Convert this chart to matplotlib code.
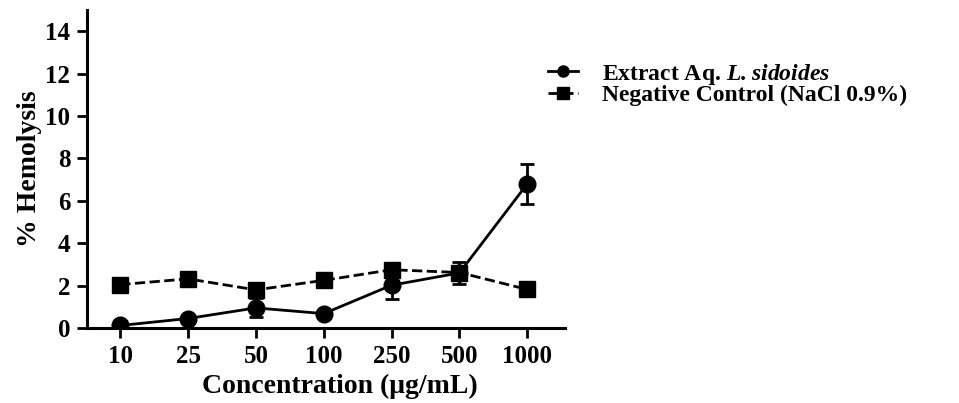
import matplotlib.pyplot as plt
from matplotlib.lines import Line2D
import numpy as np

plt.rcParams['font.family'] = ['Liberation Serif', 'DejaVu Serif']
plt.rcParams['font.weight'] = 'bold'
plt.rcParams['mathtext.fontset'] = 'custom'
plt.rcParams['mathtext.bfit'] = 'Liberation Serif:bold:italic'
plt.rcParams['mathtext.rm'] = 'Liberation Serif:bold'

concentrations = ['10', '25', '50', '100', '250', '500', '1000']
extract = [0.12, 0.45, 0.95, 0.68, 2.02, 2.6, 6.8]
extract_err = [0.1, 0.05, 0.45, 0.05, 0.65, 0.5, 0.95]
control = [2.05, 2.32, 1.8, 2.25, 2.75, 2.62, 1.82]
control_err = [0.05, 0.05, 0.3, 0.3, 0.05, 0.3, 0.05]

x = np.arange(len(concentrations))

fig = plt.figure(figsize=(9.59, 4.03), dpi=100)
ax = fig.add_axes([0.0907, 0.186, 0.498, 0.789])

ax.errorbar(x, control, yerr=control_err, color='black', linestyle='--', linewidth=2,
            marker='s', markersize=12, capsize=5, capthick=2, elinewidth=2, zorder=3)
ax.errorbar(x, extract, yerr=extract_err, color='black', linestyle='-', linewidth=2,
            marker='o', markersize=12, capsize=5, capthick=2, elinewidth=2, zorder=4)

ax.set_xlim(-0.49, 6.55)
ax.set_ylim(0, 15)
ax.set_yticks(np.arange(0, 15, 2))
ax.set_xticks(x)
ax.set_xticklabels(concentrations)
ax.tick_params(direction='out', length=7, width=2, labelsize=18, pad=5)
for lab in ax.get_xticklabels() + ax.get_yticklabels():
    lab.set_fontweight('bold')

ax.spines['top'].set_visible(False)
ax.spines['right'].set_visible(False)
ax.spines['left'].set_linewidth(2.2)
ax.spines['bottom'].set_linewidth(2.2)

ax.set_xlabel('Concentration (\u03bcg/mL)', fontsize=20, fontweight='bold')
ax.xaxis.set_label_coords(0.53, -0.145)
ax.set_ylabel('% Hemolysis', fontsize=20, fontweight='bold', labelpad=2)

handles = [Line2D([], [], color='black', linestyle='-', linewidth=2, marker='o', markersize=8),
           Line2D([], [], color='black', linestyle='--', linewidth=2, marker='s', markersize=8)]
labels = [r'Extract Aq. $\mathbfit{L.sidoides}$', 'Negative Control (NaCl 0.9%)']
leg = fig.legend(handles, labels, loc='upper left', bbox_to_anchor=(0.571, 0.847),
                 frameon=False, fontsize=17, handlelength=1.3, handletextpad=1.0,
                 labelspacing=-0.1, borderpad=0, borderaxespad=0)
for t in leg.get_texts():
    t.set_fontweight('bold')

fig.savefig('out.png', dpi=100)
